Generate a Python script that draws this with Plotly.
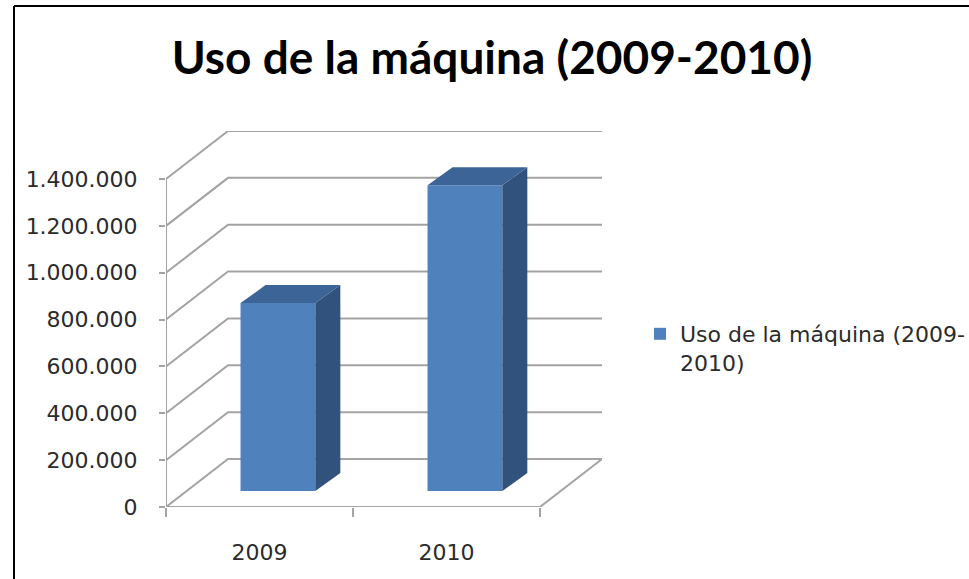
import plotly.graph_objects as go

# Data
categories = ["2009", "2010"]
values = [802000, 1305000]
y_ticks = [0, 200000, 400000, 600000, 800000, 1000000, 1200000, 1400000]
y_labels = ["0", "200.000", "400.000", "600.000", "800.000", "1.000.000", "1.200.000", "1.400.000"]
series_name = "Uso de la máquina (2009-<br>2010)"
title = "Uso de la máquina (2009-2010)"

# Oblique projection, in axis units
WALL_DX, WALL_DY = 0.3316, 204900
BAR_SHIFT_X, BAR_BASE = 0.0986, 68300
BAR_DX, BAR_DY = 0.1337, 76800
BAR_W = 0.4
X0, X1 = -0.5, 1.5
Y_TOP = 1604900
X_RANGE = [X0, X1 + WALL_DX]
Y_RANGE = [0, Y_TOP]

GRID = "#a3a3a3"
FRONT, SIDE, TOP = "#4f81bd", "#30527c", "#3c6496"
FONT = "DejaVu Sans"
TEXT = "#2b2b2b"

fig = go.Figure()

# Wall gridlines on the base subplot
for v in y_ticks:
    xs = [X0, X0 + WALL_DX, X1 + WALL_DX]
    ys = [v, v + WALL_DY, v + WALL_DY]
    fig.add_trace(go.Scatter(x=xs, y=ys, mode="lines", line=dict(color=GRID, width=2),
                             showlegend=False, hoverinfo="skip"))
# Floor edges and vertical axis
fig.add_trace(go.Scatter(x=[X0, X1, X1 + WALL_DX], y=[0, 0, WALL_DY], mode="lines",
                         line=dict(color=GRID, width=2), showlegend=False, hoverinfo="skip"))
fig.add_trace(go.Scatter(x=[X0, X0], y=[0, y_ticks[-1]], mode="lines",
                         line=dict(color=GRID, width=2), showlegend=False, hoverinfo="skip"))

# Bars on the overlaying subplot, so that they hide the gridlines
pos = list(range(len(categories)))
fig.add_trace(go.Bar(x=pos, y=values, base=BAR_BASE, width=BAR_W,
                     offset=BAR_SHIFT_X - BAR_W / 2, marker=dict(color=FRONT, line=dict(width=0)),
                     name=series_name, xaxis="x2", yaxis="y2", hoverinfo="skip"))
for p, v in zip(pos, values):
    left = p + BAR_SHIFT_X - BAR_W / 2
    right = left + BAR_W
    bottom = BAR_BASE
    top = BAR_BASE + v
    fig.add_trace(go.Scatter(
        x=[right, right + BAR_DX, right + BAR_DX, right, right],
        y=[bottom, bottom + BAR_DY, top + BAR_DY, top, bottom],
        mode="lines", fill="toself", fillcolor=SIDE, line=dict(width=0),
        xaxis="x2", yaxis="y2", showlegend=False, hoverinfo="skip"))
    fig.add_trace(go.Scatter(
        x=[left, left + BAR_DX, right + BAR_DX, right, left],
        y=[top, top + BAR_DY, top + BAR_DY, top, top],
        mode="lines", fill="toself", fillcolor=TOP, line=dict(width=0),
        xaxis="x2", yaxis="y2", showlegend=False, hoverinfo="skip"))

W, H = 969, 579
L, R, T, B = 166, 367, 131, 72
pw, ph = W - L - R, H - T - B
fx = lambda px: (px - L) / pw
fy = lambda py: 1 - (py - T) / ph

fig.update_layout(
    width=W, height=H, margin=dict(l=L, r=R, t=T, b=B),
    paper_bgcolor="white", plot_bgcolor="white",
    font=dict(family=FONT, color=TEXT),
    title=dict(text=title, x=492 / W, xref="container", xanchor="center",
               y=1 - 58 / H, yref="container", yanchor="middle",
               font=dict(family="Lato", size=46, color="black", weight="bold")),
    barmode="overlay",
    xaxis=dict(range=X_RANGE, tickmode="array", tickvals=[X0, 0.5, X1],
               ticktext=["", "", ""], ticks="outside", ticklen=9, tickcolor=GRID, tickwidth=2,
               showgrid=False, zeroline=False, showline=False),
    yaxis=dict(range=Y_RANGE, tickmode="array", tickvals=y_ticks, ticktext=y_labels,
               ticks="outside", ticklen=6, tickcolor=GRID, tickwidth=2, showgrid=False,
               zeroline=False, showline=False, ticklabelstandoff=17,
               tickfont=dict(size=22, family=FONT, color=TEXT)),
    xaxis2=dict(range=X_RANGE, overlaying="x", anchor="y", tickmode="array", tickvals=pos,
                ticktext=categories, ticks="", showgrid=False, zeroline=False, showline=False,
                ticklabelstandoff=30, tickfont=dict(size=22, family=FONT, color=TEXT)),
    yaxis2=dict(range=Y_RANGE, overlaying="y", anchor="x", visible=False),
    legend=dict(x=640 / W, y=1 - 313 / H, xref="container", yref="container",
                xanchor="left", yanchor="top", bgcolor="rgba(0,0,0,0)", valign="top",
                font=dict(size=22, family=FONT, color=TEXT)),
    shapes=[dict(type="line", xref="paper", yref="paper", x0=fx(14), x1=fx(14), y0=fy(6), y1=fy(579),
                 line=dict(color="black", width=2)),
            dict(type="line", xref="paper", yref="paper", x0=fx(14), x1=fx(969), y0=fy(6), y1=fy(6),
                 line=dict(color="black", width=2))],
)
fig.write_html("out.html", config=dict(displayModeBar=False),
               post_script="document.body.style.margin='0';document.body.style.overflow='hidden';")
